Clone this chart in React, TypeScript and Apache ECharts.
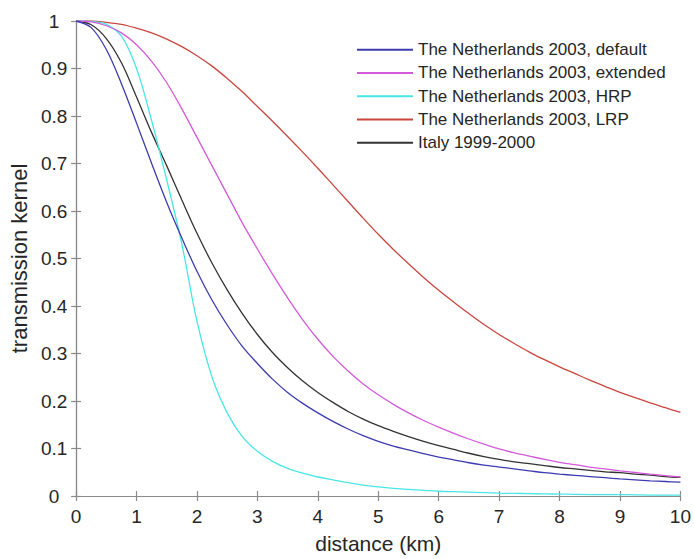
import React, { useEffect, useRef } from "react";
import * as echarts from "echarts";

// distance (km), 0 to 10 in steps of 0.25
const distance = [
  0, 0.25, 0.5, 0.75, 1, 1.25, 1.5, 1.75, 2, 2.25, 2.5, 2.75, 3, 3.25, 3.5, 3.75, 4, 4.25, 4.5, 4.75,
  5, 5.25, 5.5, 5.75, 6, 6.25, 6.5, 6.75, 7, 7.25, 7.5, 7.75, 8, 8.25, 8.5, 8.75, 9, 9.25, 9.5, 9.75, 10,
];

const nlDefault = [
  1, 0.986, 0.94, 0.868, 0.785, 0.7, 0.618, 0.543, 0.473, 0.412, 0.36, 0.315, 0.279, 0.246, 0.218, 0.195,
  0.175, 0.157, 0.141, 0.127, 0.115, 0.105, 0.097, 0.089, 0.082, 0.076, 0.07, 0.065, 0.061, 0.057, 0.053,
  0.049, 0.046, 0.0435, 0.041, 0.0385, 0.036, 0.034, 0.032, 0.0305, 0.029,
];
const nlExtended = [
  1, 0.998, 0.99, 0.975, 0.95, 0.915, 0.87, 0.815, 0.755, 0.695, 0.635, 0.575, 0.52, 0.467, 0.417, 0.371,
  0.33, 0.294, 0.263, 0.236, 0.213, 0.193, 0.175, 0.159, 0.145, 0.132, 0.12, 0.109, 0.099, 0.091, 0.084,
  0.077, 0.071, 0.066, 0.061, 0.057, 0.053, 0.0495, 0.046, 0.043, 0.04,
];
const nlHRP = [
  1, 0.999, 0.993, 0.968, 0.9, 0.79, 0.665, 0.53, 0.368, 0.25, 0.175, 0.125, 0.094, 0.073, 0.058, 0.048,
  0.04, 0.034, 0.028, 0.023, 0.019, 0.016, 0.014, 0.012, 0.01, 0.009, 0.008, 0.007, 0.006, 0.0055, 0.005,
  0.0045, 0.004, 0.0035, 0.003, 0.003, 0.003, 0.0025, 0.002, 0.002, 0.002,
];
const nlLRP = [
  1, 1, 0.997, 0.993, 0.985, 0.975, 0.962, 0.946, 0.927, 0.905, 0.879, 0.851, 0.82, 0.789, 0.757, 0.724,
  0.69, 0.655, 0.62, 0.585, 0.551, 0.519, 0.489, 0.46, 0.433, 0.408, 0.384, 0.361, 0.34, 0.321, 0.303,
  0.287, 0.272, 0.258, 0.244, 0.231, 0.218, 0.207, 0.196, 0.186, 0.176,
];
const italy = [
  1, 0.992, 0.963, 0.912, 0.84, 0.765, 0.695, 0.623, 0.553, 0.49, 0.434, 0.384, 0.34, 0.302, 0.27, 0.242,
  0.218, 0.197, 0.178, 0.162, 0.148, 0.136, 0.125, 0.115, 0.106, 0.098, 0.09, 0.083, 0.077, 0.072, 0.068,
  0.064, 0.06, 0.057, 0.054, 0.051, 0.049, 0.046, 0.044, 0.041, 0.039,
];

const seriesNames = [
  "The Netherlands 2003, default",
  "The Netherlands 2003, extended",
  "The Netherlands 2003, HRP",
  "The Netherlands 2003, LRP",
  "Italy 1999-2000",
];
const seriesColors = ["#3c3cb0", "#d35ad8", "#4ae6e6", "#c9473f", "#333333"];
const seriesValues = [nlDefault, nlExtended, nlHRP, nlLRP, italy];

const FONT = "'Liberation Sans', Arial, sans-serif";
const AXIS_GREY = "#8a8a8a";
const TEXT = "#262626";

export default function App() {
  const ref = useRef<HTMLDivElement>(null);
  useEffect(() => {
    if (!ref.current) return;
    const chart = echarts.init(ref.current, undefined, { renderer: "svg" });
    const axisCommon = {
      axisLine: { show: true, lineStyle: { color: AXIS_GREY, width: 1.2 } },
      axisTick: { show: true, inside: true, length: 5, lineStyle: { color: AXIS_GREY, width: 1.2 } },
      splitLine: { show: false },
    };
    chart.setOption({
      animation: false,
      backgroundColor: "#ffffff",
      textStyle: { fontFamily: FONT },
      grid: { left: 74, right: 10, top: 21, bottom: 58, containLabel: false },
      legend: {
        orient: "vertical",
        left: 357,
        top: 38,
        padding: 0,
        icon: "rect",
        itemWidth: 56,
        itemHeight: 2,
        itemGap: 0,
        data: seriesNames,
        textStyle: { fontFamily: FONT, fontSize: 17, color: TEXT, lineHeight: 23.3 },
      },
      xAxis: [
        {
          type: "value",
          min: 0,
          max: 10,
          interval: 1,
          position: "bottom",
          name: "distance (km)",
          nameLocation: "middle",
          nameGap: 37,
          nameTextStyle: { fontFamily: FONT, fontSize: 21, color: TEXT },
          axisLabel: { fontFamily: FONT, fontSize: 19, color: TEXT, margin: 11 },
          ...axisCommon,
        },
        {
          type: "value",
          min: 0,
          max: 10,
          interval: 1,
          position: "top",
          axisLabel: { show: false },
          ...axisCommon,
        },
      ],
      yAxis: [
        {
          type: "value",
          min: 0,
          max: 1,
          interval: 0.1,
          position: "left",
          name: "transmission kernel",
          nameLocation: "middle",
          nameGap: 45,
          nameRotate: 90,
          nameTextStyle: { fontFamily: FONT, fontSize: 22, color: TEXT },
          axisLabel: {
            fontFamily: FONT,
            fontSize: 19,
            color: TEXT,
            align: "center",
            margin: 22,
            formatter: (v: number) => String(Math.round(v * 10) / 10),
          },
          ...axisCommon,
        },
        {
          type: "value",
          min: 0,
          max: 1,
          interval: 0.1,
          position: "right",
          axisLabel: { show: false },
          ...axisCommon,
        },
      ],
      series: seriesNames.map((name, k) => ({
        name,
        type: "line",
        xAxisIndex: 0,
        yAxisIndex: 0,
        data: distance.map((d, i) => [d, seriesValues[k][i]]),
        symbol: "none",
        smooth: 0.35,
        color: seriesColors[k],
        lineStyle: { color: seriesColors[k], width: 1.3 },
        z: 5 - k,
      })),
    });
    return () => chart.dispose();
  }, []);
  return (
    <div
      ref={ref}
      style={{ position: "fixed", left: 0, top: 0, width: 694, height: 559, background: "#fff" }}
    />
  );
}
